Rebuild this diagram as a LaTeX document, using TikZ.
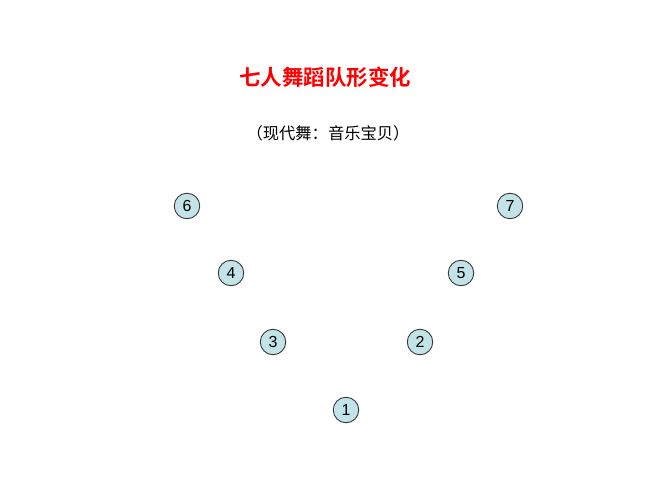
\documentclass[tikz,border=0pt]{standalone}
\usepackage{fontspec}
\setmainfont{Liberation Sans}
\newfontfamily\cjk{Noto Sans CJK SC}
\newfontfamily\cjkb{Noto Sans CJK SC Bold}
\definecolor{dancerfill}{HTML}{C2E3E8}
\definecolor{dancerline}{HTML}{3A3A3A}
\begin{document}
\begin{tikzpicture}[x=1pt,y=-1pt,
  dancer/.style={circle,draw=dancerline,line width=0.9pt,fill=dancerfill,minimum size=25.5pt,inner sep=0pt,font=\fontsize{16}{16}\selectfont}]
\useasboundingbox (0,0) rectangle (667,500);
\node (title) at (325,77) {\cjkb\fontsize{21.5}{21.5}\selectfont\color{red}七人舞蹈队形变化};
\node (sub) at (328,133) {\cjk\fontsize{16.3}{16.3}\selectfont （现代舞：音乐宝贝）};
\node[dancer] (d6) at (187,206) {6};
\node[dancer] (d7) at (510,206) {7};
\node[dancer] (d4) at (231,273) {4};
\node[dancer] (d5) at (461,273) {5};
\node[dancer] (d3) at (273,342) {3};
\node[dancer] (d2) at (420,342) {2};
\node[dancer] (d1) at (346,410) {1};
\end{tikzpicture}
\end{document}
